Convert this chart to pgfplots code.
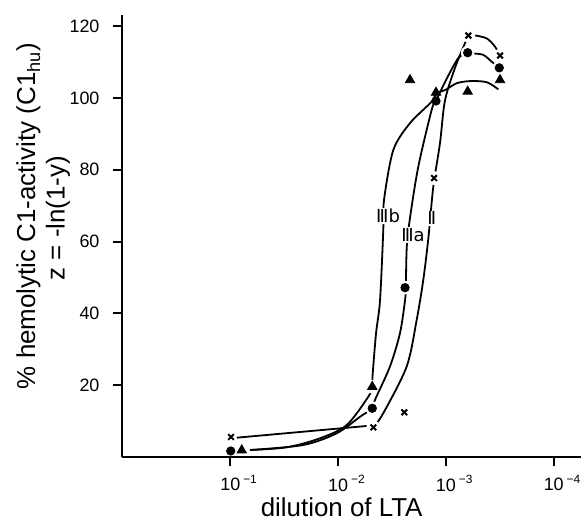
\documentclass[border=0pt]{standalone}
\usepackage{fontspec}
\setmainfont{Liberation Sans}
\newfontfamily\romfont{DejaVu Sans}
\usepackage{pgfplots}
\pgfplotsset{compat=1.18}
\usetikzlibrary{calc}

\begin{document}
\begin{tikzpicture}
\begin{axis}[
    scale only axis, width=229.25bp, height=220.8bp,
    xmin=0, xmax=4.253, ymin=0, ymax=123,
    axis x line*=bottom, axis y line*=left,
    axis line style={line width=1bp,-},
    tick style={line width=1bp,black},
    tick align=outside, major tick length=4.5bp,
    xtick={1,2,3,4},
    xticklabels={10\rlap{\,\textsuperscript{−1}},10\rlap{\,\textsuperscript{−2}},10\rlap{\,\textsuperscript{−3}},10\rlap{\,\textsuperscript{−4}}},
    ytick={20,40,...,120}, yticklabels={20,40,60,80,100,120},
    tick label style={font=\fontsize{9}{10}\selectfont},
    xticklabel style={yshift=-1bp},
    yticklabel style={xshift=-3.5bp},
    clip=false,
  ]
  % series II (crosses)
  \addplot[black,line width=0.9bp] coordinates {(1.06,5.38)(2.265,8.64)};
  \addplot[black,line width=0.9bp,smooth,tension=0.5] coordinates {
    (2.327,8.27)(2.419,12.2)(2.636,25.2)(2.729,38.2)(2.790,49.3)(2.837,60.9)(2.883,75.3)
    (2.945,87.4)(2.992,99.4)(3.094,109.2)(3.208,117.4)};
  \addplot[black,line width=0.9bp,smooth,tension=0.5] coordinates {
    (3.208,117.4)(3.254,117.5)(3.378,116.6)(3.455,114.3)(3.502,111.8)};
  % series IIIa (circles)
  \addplot[black,line width=0.9bp,smooth,tension=0.5] coordinates {
    (1.183,1.95)(1.677,3.34)(1.987,6.6)(2.203,11.2)(2.317,13.57)(2.342,15.9)(2.481,25.2)
    (2.574,34.5)(2.621,43.7)(2.628,47.16)(2.637,58.6)(2.667,66.6)(2.744,80.9)(2.868,96.7)
    (2.908,99.16)(3.001,105.0)(3.115,111.1)(3.202,112.6)};
  \addplot[black,line width=0.9bp,smooth,tension=0.5] coordinates {
    (3.202,112.6)(3.254,112.4)(3.347,112.0)(3.425,110.1)(3.495,108.4)};
  % series IIIb (triangles)
  \addplot[black,line width=0.9bp,smooth,tension=0.5] coordinates {
    (1.183,1.95)(1.523,2.70)(1.832,5.21)(2.080,8.91)(2.280,16.8)(2.317,19.58)(2.32,22.8)
    (2.352,34.5)(2.389,43.7)(2.419,63.2)(2.426,71.6)(2.512,85.5)(2.667,93.0)(2.868,99.0)(2.908,101.5)};
  \addplot[black,line width=0.9bp,smooth,tension=0.5] coordinates {
    (2.908,101.5)(2.992,102.2)(3.100,104.1)(3.224,104.7)(3.378,104.4)(3.486,102.4)};
  % white halos behind markers on curves
  \addplot[only marks,mark=*,mark size=3.2bp,white,mark options={draw=white,fill=white}] coordinates {
    (2.327,8.27)(2.89,77.7)(3.208,117.4)(3.502,111.8)
    (2.317,13.57)(2.621,47.16)(3.202,112.6)(3.495,108.4)
    (2.317,19.58)(3.502,105.0)};
  % markers
  \addplot[only marks,mark=x,mark size=2bp,black,mark options={line width=1bp}] coordinates {
    (1.007,5.57)(2.327,8.27)(2.614,12.45)(2.89,77.7)(3.208,117.4)(3.502,111.8)};
  \addplot[only marks,mark=*,mark size=2.1bp,black] coordinates {
    (1.004,1.67)(2.317,13.57)(2.621,47.16)(2.908,99.16)(3.202,112.6)(3.495,108.4)};
  \addplot[only marks,mark=triangle*,mark size=2.7bp,black] coordinates {
    (1.106,1.87)(2.317,19.58)(2.667,105.0)(2.908,101.5)(3.202,101.8)(3.502,105.0)};
  % curve labels
  \node[fill=white,inner sep=0.6bp,font=\romfont\fontsize{9}{10}\selectfont] at (axis cs:2.463,67.1) {Ⅲb};
  \node[fill=white,inner sep=0.6bp,font=\romfont\fontsize{9}{10}\selectfont] at (axis cs:2.695,61.8) {Ⅲa};
  \node[fill=white,inner sep=0.6bp,font=\romfont\fontsize{9}{10}\selectfont] at (axis cs:2.868,66.5) {Ⅱ};
  % axis labels
  \node[font=\fontsize{13}{14}\selectfont] at (axis description cs:0.478,-0.114) {dilution of LTA};
  \node[rotate=90,font=\fontsize{13}{14}\selectfont] at (axis description cs:-0.205,0.546)
    {\% hemolytic C1-activity (C1\textsubscript{hu})};
  \node[rotate=90,font=\fontsize{13}{14}\selectfont] at (axis description cs:-0.141,0.541)
    {z = -ln(1-y)};
\end{axis}
\pgfresetboundingbox
\path ($(current axis.south west)+(-61.25bp,-32bp)$) rectangle ($(current axis.north east)+(0,7.7bp)$);
\end{tikzpicture}
\end{document}
